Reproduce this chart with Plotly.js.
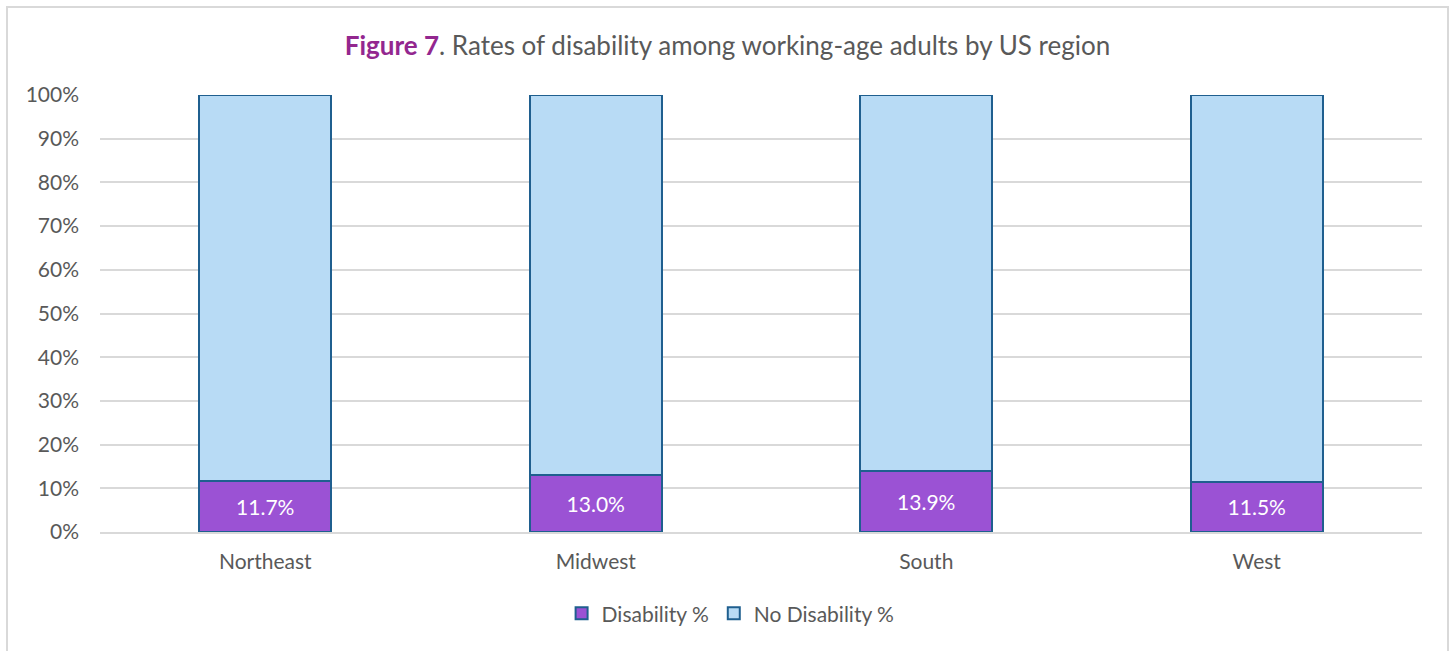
<!DOCTYPE html>
<html><head><meta charset="utf-8">
<script src="https://cdn.plot.ly/plotly-3.0.1.min.js"></script>
<style>
html,body{margin:0;padding:0;background:#fff;}
#frame{position:absolute;left:6px;top:6px;width:1443px;height:660px;border:2px solid #d9d9d9;box-sizing:border-box;}
#chart{position:absolute;left:0;top:0;width:1455px;height:651px;}
</style></head>
<body>
<div id="frame"></div>
<div id="chart"></div>
<script>
var regions = ["Northeast", "Midwest", "South", "West"];
var disability = [11.7, 13.0, 13.9, 11.5];
var noDisability = [88.3, 87.0, 86.1, 88.5];
var yTicks = [0,10,20,30,40,50,60,70,80,90,100];
var yTickLabels = yTicks.map(function(v){return v + "%";});

var font = "Lato, 'Open Sans', sans-serif";
var traces = [
  {type:"bar", name:"Disability %", x:regions, y:disability,
   marker:{color:"#9b52d4", line:{color:"#1f5f8f", width:2}},
   text:disability.map(function(v){return v.toFixed(1)+"%";}),
   textposition:"inside", insidetextanchor:"middle",
   textfont:{color:"#ffffff", size:21, family:font}, hoverinfo:"skip"},
  {type:"bar", name:"No Disability %", x:regions, y:noDisability,
   marker:{color:"#b8dbf5", line:{color:"#1f5f8f", width:2}},
   hoverinfo:"skip"}
];
var layout = {
  width:1455, height:651,
  paper_bgcolor:"rgba(0,0,0,0)", plot_bgcolor:"rgba(0,0,0,0)",
  margin:{l:100, r:33, t:95, b:119},
  barmode:"stack", bargap:0.6,
  font:{family:font, color:"#595959", size:21},
  title:{text:"<b><span style='color:#93278f'>Figure 7</span></b>. Rates of disability among working-age adults by US region",
    font:{family:font, size:26, color:"#595959"}, x:0.5, xanchor:"center", y:0.93, yanchor:"middle"},
  xaxis:{showgrid:false, showline:true, linecolor:"#d9d9d9", linewidth:2, ticks:"", tickfont:{size:21}, ticklabelstandoff:10},
  yaxis:{range:[0,100], tickvals:yTicks, ticktext:yTickLabels, showgrid:true, gridcolor:"#d9d9d9", gridwidth:2,
    zeroline:false, showline:false, ticks:"", ticklen:0, tickfont:{size:21}, ticklabelstandoff:20},
  legend:{orientation:"h", x:0.477, xanchor:"center", y:-0.14, yanchor:"top", font:{size:21}, traceorder:"normal", itemwidth:30},
  showlegend:true
};
Plotly.newPlot("chart", traces, layout, {displayModeBar:false, staticPlot:true});
</script>
</body></html>
